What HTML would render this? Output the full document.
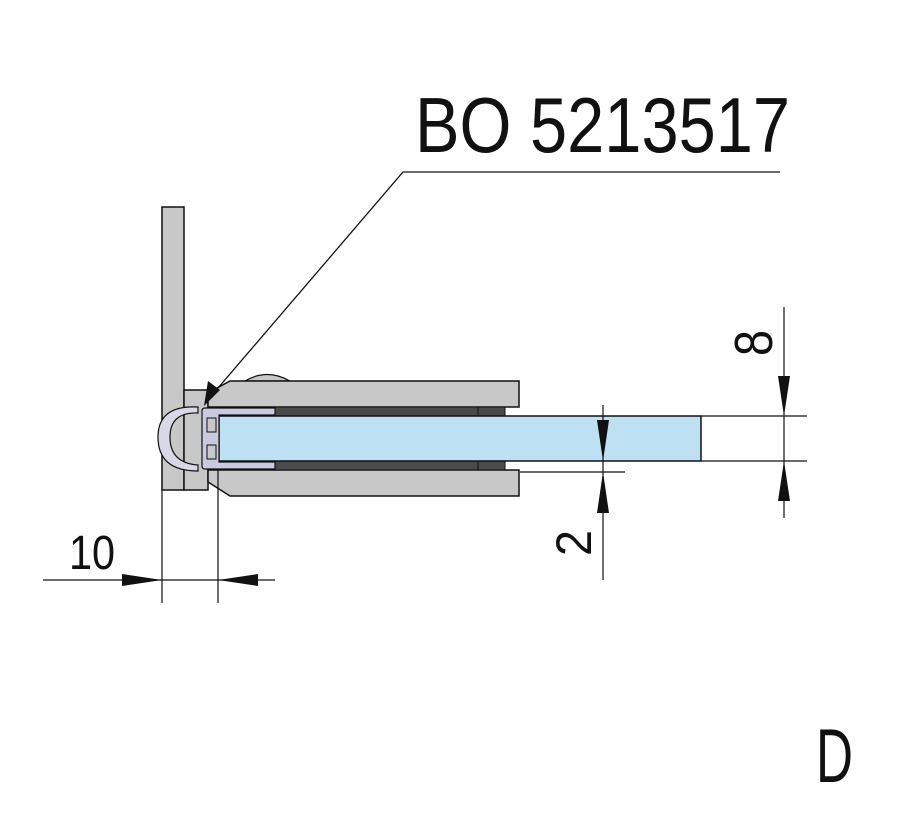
<!DOCTYPE html>
<html><head><style>body{margin:0;background:#fff}svg{display:block}</style></head><body>
<svg width="909" height="820" viewBox="0 0 909 820" xmlns="http://www.w3.org/2000/svg" font-family="Liberation Sans, sans-serif">
<rect width="909" height="820" fill="#fff"/>
<!-- wall -->
<rect x="162" y="207" width="22" height="283" fill="#c8c8c8" stroke="#111" stroke-width="1.5"/>
<rect x="184" y="390" width="24" height="100" fill="#c8c8c8" stroke="#111" stroke-width="1.5"/>
<!-- knob -->
<path d="M245 381 Q267 368 290 381 Z" fill="#c8c8c8" stroke="#111" stroke-width="1.2"/>
<!-- top plate -->
<path d="M230 381 L519 381 L519 407 L208 407 L208 393 Z" fill="#c8c8c8" stroke="#111" stroke-width="1.5"/>
<!-- bottom plate -->
<path d="M208 470 L519 470 L519 496 L230 496 L208 482 Z" fill="#c8c8c8" stroke="#111" stroke-width="1.5"/>
<!-- gaskets -->
<rect x="274" y="407" width="231" height="9" fill="#4a4a4a" stroke="#111"/>
<rect x="274" y="461" width="231" height="9" fill="#4a4a4a" stroke="#111"/>
<line x1="478" y1="407" x2="478" y2="416" stroke="#111"/>
<line x1="478" y1="461" x2="478" y2="470" stroke="#111"/>
<!-- glass -->
<rect x="219" y="416" width="482" height="45" fill="#bde0f2" stroke="#111" stroke-width="1.5"/>
<!-- U profile -->
<path d="M205 408 L275 408 L275 415 L219 415 L219 462 L275 462 L275 469 L205 469 Q202 469 202 466 L202 411 Q202 408 205 408 Z" fill="#c9c9e0" stroke="#111" stroke-width="1.2"/>
<rect x="207" y="418" width="9" height="14" fill="#c8c8c8" stroke="#111"/>
<rect x="207" y="445" width="9" height="14" fill="#c8c8c8" stroke="#111"/>
<!-- bulb seal -->
<path d="M198 407 Q158 405 158 437 Q158 471 198 471 L198 465 Q170 463 170 437 Q170 412 198 413 Z" fill="#d8d8e8" stroke="#111" stroke-width="1.2"/>
<!-- leader -->
<polyline points="780,172 403,172 212,395" fill="none" stroke="#111" stroke-width="1.3"/>
<polygon points="204,406 208,381 220,390" fill="#111"/>
<text x="415" y="152" font-size="78" textLength="375" lengthAdjust="spacingAndGlyphs" fill="#111">BO 5213517</text>
<!-- 8 dim -->
<line x1="701" y1="416" x2="807" y2="416" stroke="#111" stroke-width="1.2"/>
<line x1="701" y1="461" x2="807" y2="461" stroke="#111" stroke-width="1.2"/>
<line x1="784" y1="307" x2="784" y2="518" stroke="#111" stroke-width="1.2"/>
<polygon points="784,416 778,376 790,376" fill="#111"/>
<polygon points="784,461 778,501 790,501" fill="#111"/>
<text transform="translate(772,356) rotate(-90)" font-size="54" textLength="26" lengthAdjust="spacingAndGlyphs" fill="#111">8</text>
<!-- 2 dim -->
<line x1="520" y1="472" x2="625" y2="472" stroke="#111" stroke-width="1.2"/>
<line x1="603" y1="405" x2="603" y2="580" stroke="#111" stroke-width="1.2"/>
<polygon points="603,461 597,420 609,420" fill="#111"/>
<polygon points="603,472 597,513 609,513" fill="#111"/>
<text transform="translate(591,556) rotate(-90)" font-size="50" textLength="26" lengthAdjust="spacingAndGlyphs" fill="#111">2</text>
<!-- 10 dim -->
<line x1="162" y1="490" x2="162" y2="603" stroke="#111" stroke-width="1.2"/>
<line x1="218" y1="470" x2="218" y2="603" stroke="#111" stroke-width="1.2"/>
<line x1="43" y1="580" x2="275" y2="580" stroke="#111" stroke-width="1.2"/>
<polygon points="162,580 122,574 122,586" fill="#111"/>
<polygon points="218,580 258,574 258,586" fill="#111"/>
<text x="69" y="569" font-size="48" textLength="46" lengthAdjust="spacingAndGlyphs" fill="#111">10</text>
<text x="816" y="782" font-size="76" textLength="37" lengthAdjust="spacingAndGlyphs" fill="#111">D</text>
</svg>
</body></html>
